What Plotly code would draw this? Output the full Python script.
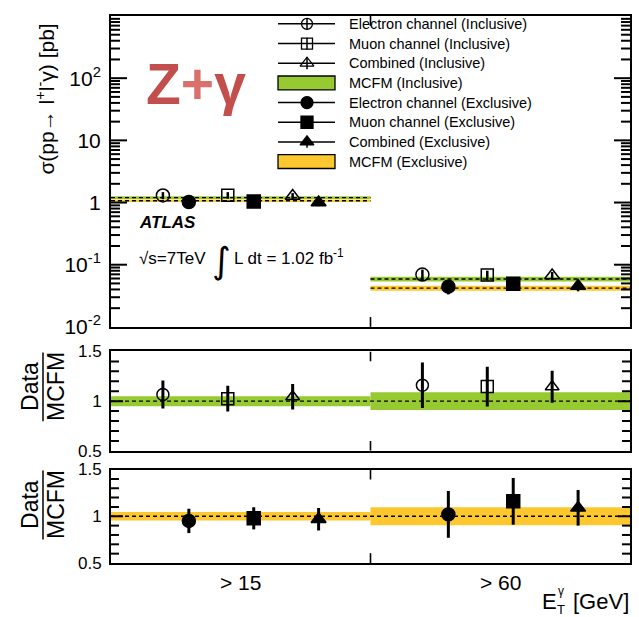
import math
import plotly.graph_objects as go

# ---------------- data ----------------
categories = ["> 15", "> 60"]          # photon E_T thresholds [GeV]
bin_edges = [0.0, 1.0, 2.0]

# measured cross sections [pb]
xs_e_incl = [1.30, 0.0695]
xs_e_incl_err = [0.17, 0.014]
xs_mu_incl = [1.31, 0.068]
xs_mu_incl_err = [0.16, 0.012]
xs_comb_incl = [1.27, 0.067]
xs_comb_incl_err = [0.15, 0.0095]
xs_e_excl = [1.02, 0.0443]
xs_e_excl_err = [0.14, 0.011]
xs_mu_excl = [1.04, 0.0496]
xs_mu_excl_err = [0.125, 0.0106]
xs_comb_excl = [1.00, 0.0454]
xs_comb_excl_err = [0.125, 0.0081]

# MCFM predictions [pb] and relative uncertainties
mcfm_incl = [1.20, 0.059]
mcfm_incl_rel = [0.05, 0.09]
mcfm_excl = [1.07, 0.042]
mcfm_excl_rel = [0.045, 0.096]

# Data / MCFM ratios
r_e_incl = [1.067, 1.16]
r_e_incl_err = [0.14, 0.23]
r_mu_incl = [1.025, 1.147]
r_mu_incl_err = [0.13, 0.20]
r_comb_incl = [1.045, 1.145]
r_comb_incl_err = [0.128, 0.16]
r_e_excl = [0.95, 1.02]
r_e_excl_err = [0.13, 0.25]
r_mu_excl = [0.978, 1.16]
r_mu_excl_err = [0.118, 0.25]
r_comb_excl = [0.968, 1.09]
r_comb_excl_err = [0.12, 0.19]

# axis tick values
log_major = [0.1, 1, 10, 100]
log_labels_vals = [0.01, 0.1, 1, 10, 100]
log_labels = ["10<sup>-2</sup>", "10<sup>-1</sup>", "1", "10", "10<sup>2</sup>"]
ratio_major = [1.0]
ratio_labels_vals = [0.5, 1.0, 1.5]
ratio_labels = ["0.5", "1", "1.5"]
ratio_minor = [0.6, 0.7, 0.8, 0.9, 1.1, 1.2, 1.3, 1.4]

# ---------------- layout helpers ----------------
W, H = 639, 617
ML, MR, MT, MB = 111, 9, 7, 54
PW, PH = W - ML - MR, H - MT - MB
LOG_RANGE = [-2, 3]
RATIO_RANGE = [0.5, 1.5]
# vertical pixel extent (top, bottom) of the three panels
TOP_PANEL = (MT, 323)
MID_PANEL = (348, 449)
BOT_PANEL = (468, H - MB)
XSPAN = bin_edges[-1] - bin_edges[0]


def px(x):
    return (x - ML) / PW


def py(y):
    return (H - MB - y) / PH


def top_x(xpix):
    """pixel column -> x value of the cross-section panel"""
    return bin_edges[0] + (xpix - ML) / PW * XSPAN


def top_y(ypix):
    """pixel row -> y value of the (log) cross-section panel"""
    frac = (TOP_PANEL[1] - ypix) / (TOP_PANEL[1] - TOP_PANEL[0])
    return 10 ** (LOG_RANGE[0] + frac * (LOG_RANGE[1] - LOG_RANGE[0]))


FONT = "Liberation Sans"
GREEN = "#97c930"
YELLOW = "#fdc82f"
RED = "#c24f4b"
RED_LIGHT = "#d8706b"

# horizontal offsets of each channel inside a bin
OFF_INCL = [0.20, 0.45, 0.70]
OFF_EXCL = [0.30, 0.55, 0.80]


def xs_at(offset):
    return [bin_edges[i] + offset for i in range(len(categories))]


fig = go.Figure()


def add_band(values, rel, color, xa, ya, dashed=True):
    for i in range(len(categories)):
        lo, hi = bin_edges[i], bin_edges[i + 1]
        v = values[i]
        e = v * rel[i]
        fig.add_trace(go.Scatter(
            x=[lo, hi, hi, lo, lo], y=[v - e, v - e, v + e, v + e, v - e],
            fill="toself", fillcolor=color, line=dict(width=0),
            mode="lines", xaxis=xa, yaxis=ya, showlegend=False, hoverinfo="skip"))
        if dashed:
            fig.add_trace(go.Scatter(
                x=[lo, hi], y=[v, v], mode="lines",
                line=dict(color="black", width=1.4, dash="4px,3px"),
                xaxis=xa, yaxis=ya, showlegend=False, hoverinfo="skip"))


def add_points(x, y, err, symbol, size, xa, ya, thick):
    fig.add_trace(go.Scatter(
        x=x, y=y, mode="markers", xaxis=xa, yaxis=ya, showlegend=False,
        marker=dict(symbol=symbol, size=size, color="black",
                    line=dict(width=1.5, color="black")),
        error_y=dict(type="data", array=err, color="black",
                     thickness=thick, width=0)))


# ---- top panel: cross sections ----
add_band(mcfm_incl, mcfm_incl_rel, GREEN, "x", "y")
add_band(mcfm_excl, mcfm_excl_rel, YELLOW, "x", "y")
add_points(xs_at(OFF_INCL[0]), xs_e_incl, xs_e_incl_err, "circle-open", 13, "x", "y", 2.5)
add_points(xs_at(OFF_INCL[1]), xs_mu_incl, xs_mu_incl_err, "square-open", 12, "x", "y", 2.5)
add_points(xs_at(OFF_INCL[2]), xs_comb_incl, xs_comb_incl_err, "triangle-up-open", 13, "x", "y", 2.5)
add_points(xs_at(OFF_EXCL[0]), xs_e_excl, xs_e_excl_err, "circle", 13, "x", "y", 2.5)
add_points(xs_at(OFF_EXCL[1]), xs_mu_excl, xs_mu_excl_err, "square", 13, "x", "y", 2.5)
add_points(xs_at(OFF_EXCL[2]), xs_comb_excl, xs_comb_excl_err, "triangle-up", 13, "x", "y", 2.5)

# ---- middle panel: inclusive ratio ----
add_band([1.0, 1.0], mcfm_incl_rel, GREEN, "x2", "y2", dashed=False)
add_points(xs_at(OFF_INCL[0]), r_e_incl, r_e_incl_err, "circle-open", 12, "x2", "y2", 3)
add_points(xs_at(OFF_INCL[1]), r_mu_incl, r_mu_incl_err, "square-open", 12, "x2", "y2", 3)
add_points(xs_at(OFF_INCL[2]), r_comb_incl, r_comb_incl_err, "triangle-up-open", 12, "x2", "y2", 3)

# ---- bottom panel: exclusive ratio ----
add_band([1.0, 1.0], mcfm_excl_rel, YELLOW, "x3", "y3", dashed=False)
add_points(xs_at(OFF_EXCL[0]), r_e_excl, r_e_excl_err, "circle", 13, "x3", "y3", 3)
add_points(xs_at(OFF_EXCL[1]), r_mu_excl, r_mu_excl_err, "square", 13, "x3", "y3", 3)
add_points(xs_at(OFF_EXCL[2]), r_comb_excl, r_comb_excl_err, "triangle-up", 13, "x3", "y3", 3)

shapes = []
# unity reference lines in the ratio panels
for xa, ya in (("x2", "y2"), ("x3", "y3")):
    shapes.append(dict(type="line", xref=xa, yref=ya, x0=bin_edges[0], x1=bin_edges[-1],
                       y0=1, y1=1, line=dict(color="black", width=1.4, dash="4px,3px")))


# ---------------- tick marks (inside, on all four sides) ----------------
def add_ticks(xa, ya, majors, minors, maj_len, min_len, y_lo, y_hi, y_step):
    """Draw inside tick marks as line traces; lengths are given in pixels."""
    for vals, ln in ((majors, maj_len), (minors, min_len)):
        dx = ln / PW * XSPAN
        for v in vals:
            for x0, x1 in ((bin_edges[0], bin_edges[0] + dx), (bin_edges[-1] - dx, bin_edges[-1])):
                fig.add_trace(go.Scatter(x=[x0, x1], y=[v, v], mode="lines", xaxis=xa, yaxis=ya,
                                         line=dict(color="black", width=2, simplify=False),
                                         showlegend=False, hoverinfo="skip"))
    # tick at the bin boundary on the lower and upper frame edge
    xb = bin_edges[1]
    for ya0, ya1 in ((y_lo, y_step(y_lo, +10)), (y_hi, y_step(y_hi, -10))):
        fig.add_trace(go.Scatter(x=[xb, xb], y=[ya0, ya1], mode="lines", xaxis=xa, yaxis=ya,
                                 line=dict(color="black", width=1.6), showlegend=False,
                                 hoverinfo="skip"))


decade_px = (TOP_PANEL[1] - TOP_PANEL[0]) / (LOG_RANGE[1] - LOG_RANGE[0])
log_minor = [k * 10.0 ** d for d in range(LOG_RANGE[0], LOG_RANGE[1]) for k in range(2, 10)]
add_ticks("x", "y", log_major, log_minor, 16, 9,
          10 ** LOG_RANGE[0], 10 ** LOG_RANGE[1],
          lambda v, dpix: v * 10 ** (dpix / decade_px))
for xa, ya, (top, bot) in (("x2", "y2", MID_PANEL), ("x3", "y3", BOT_PANEL)):
    unit_px = (bot - top) / (RATIO_RANGE[1] - RATIO_RANGE[0])
    add_ticks(xa, ya, ratio_major, ratio_minor, 12, 8, RATIO_RANGE[0], RATIO_RANGE[1],
              lambda v, dpix, u=unit_px: v + dpix / u)

# ---------------- legend (drawn by hand) ----------------
legend_rows = [
    ("Electron channel (Inclusive)", "circle-open", 11, True),
    ("Muon channel (Inclusive)", "square-open", 11, True),
    ("Combined (Inclusive)", "triangle-up-open", 12, True),
    ("MCFM (Inclusive)", GREEN, None, False),
    ("Electron channel (Exclusive)", "circle", 12, True),
    ("Muon channel (Exclusive)", "square", 12, True),
    ("Combined (Exclusive)", "triangle-up", 12, True),
    ("MCFM (Exclusive)", YELLOW, None, False),
]
LEG_X0, LEG_X1, LEG_XM, LEG_TX = 278, 335, 307, 347
annotations = []
for k, (label, sym, size, is_marker) in enumerate(legend_rows):
    yrow = 15 + 20 * k
    if is_marker:
        shapes.append(dict(type="line", xref="paper", yref="paper",
                           x0=px(LEG_X0), x1=px(LEG_X1), y0=py(yrow), y1=py(yrow),
                           line=dict(color="black", width=1.5)))
        shapes.append(dict(type="line", xref="paper", yref="paper",
                           x0=px(LEG_XM), x1=px(LEG_XM), y0=py(yrow - 6), y1=py(yrow + 6),
                           line=dict(color="black", width=1.5)))
        fig.add_trace(go.Scatter(
            x=[top_x(LEG_XM)], y=[top_y(yrow)], mode="markers", xaxis="x", yaxis="y",
            showlegend=False, hoverinfo="skip",
            marker=dict(symbol=sym, size=size, color="black", line=dict(width=1.3, color="black"))))
    else:
        shapes.append(dict(type="rect", xref="paper", yref="paper",
                           x0=px(LEG_X0), x1=px(LEG_X1), y0=py(yrow - 7), y1=py(yrow + 7),
                           fillcolor=sym, line=dict(color="black", width=1.3)))
    annotations.append(dict(text=label, xref="paper", yref="paper", x=px(LEG_TX), y=py(yrow),
                            xanchor="left", yanchor="middle", showarrow=False,
                            font=dict(family=FONT, size=14.5, color="black")))

# ---------------- text ----------------
annotations += [
    dict(text=f'<span style="color:{RED}">Z</span><span style="color:{RED_LIGHT}">+</span>'
              f'<span style="color:{RED}">γ</span>',
         xref="paper", yref="paper", x=px(196), y=py(76), xanchor="center", yanchor="middle",
         showarrow=False, font=dict(family=FONT, size=57, weight="bold")),
    dict(text="<b><i>ATLAS</i></b>", xref="paper", yref="paper", x=px(137), y=py(217),
         xanchor="left", yanchor="middle", showarrow=False,
         font=dict(family=FONT, size=17, color="black")),
    dict(text="√s=7TeV", xref="paper", yref="paper", x=px(137), y=py(253),
         xanchor="left", yanchor="middle", showarrow=False,
         font=dict(family=FONT, size=17, color="black")),
    dict(text="∫", xref="paper", yref="paper", x=px(221), y=py(256),
         xanchor="center", yanchor="middle", showarrow=False,
         font=dict(family="DejaVu Sans", size=36, color="black")),
    dict(text="L dt = 1.02 fb<sup>-1</sup>", xref="paper", yref="paper", x=px(232), y=py(252),
         xanchor="left", yanchor="middle", showarrow=False,
         font=dict(family=FONT, size=17, color="black")),
    # y-axis title of the cross-section panel
    dict(text="σ(pp→ l<sup>+</sup>l<sup>-</sup>γ) [pb]", xref="paper", yref="paper",
         x=px(45), y=py(92), xanchor="center", yanchor="middle", textangle=-90,
         showarrow=False, font=dict(family=FONT, size=21, color="black")),
    # x-axis title
    dict(text="E", xref="paper", yref="paper", x=px(549), y=py(602), xanchor="center",
         yanchor="middle", showarrow=False, font=dict(family=FONT, size=22, color="black")),
    dict(text="γ", xref="paper", yref="paper", x=px(561), y=py(591), xanchor="center",
         yanchor="middle", showarrow=False, font=dict(family=FONT, size=12, color="black")),
    dict(text="T", xref="paper", yref="paper", x=px(561), y=py(610), xanchor="center",
         yanchor="middle", showarrow=False, font=dict(family=FONT, size=13, color="black")),
    dict(text="[GeV]", xref="paper", yref="paper", x=px(631), y=py(602), xanchor="right",
         yanchor="middle", showarrow=False, font=dict(family=FONT, size=22, color="black")),
]

# category labels under the bottom panel
for i, cat in enumerate(categories):
    annotations.append(dict(text=cat, xref="x3", yref="paper",
                            x=(bin_edges[i] + bin_edges[i + 1]) / 2, y=py(583),
                            xanchor="center", yanchor="middle", showarrow=False,
                            font=dict(family=FONT, size=21, color="black")))

# Data/MCFM titles for the ratio panels
for ycen in (384, 504):
    annotations.append(dict(text="Data", xref="paper", yref="paper", x=px(30), y=py(ycen),
                            xanchor="center", yanchor="middle", textangle=-90, showarrow=False,
                            font=dict(family=FONT, size=23, color="black")))
    annotations.append(dict(text="MCFM", xref="paper", yref="paper", x=px(56), y=py(ycen),
                            xanchor="center", yanchor="middle", textangle=-90, showarrow=False,
                            font=dict(family=FONT, size=23, color="black")))
    shapes.append(dict(type="line", xref="paper", yref="paper", x0=px(43), x1=px(43),
                       y0=py(ycen - 35), y1=py(ycen + 35), line=dict(color="black", width=1.5)))

# ---------------- axes ----------------
frame = dict(showline=True, linewidth=2, linecolor="black", mirror=True,
             showgrid=False, zeroline=False, ticks="")

x_common = dict(range=[bin_edges[0], bin_edges[-1]], showticklabels=False, **frame)

y_ratio = dict(range=RATIO_RANGE, tickmode="array", tickvals=ratio_labels_vals,
               ticktext=ratio_labels, ticklabelstandoff=4,
               tickfont=dict(family=FONT, size=17, color="black"), **frame)

fig.update_layout(
    width=W, height=H,
    margin=dict(l=ML, r=MR, t=MT, b=MB, pad=0),
    paper_bgcolor="white", plot_bgcolor="white",
    showlegend=False,
    xaxis=dict(domain=[0, 1], anchor="y", **x_common),
    yaxis=dict(domain=[py(TOP_PANEL[1]), py(TOP_PANEL[0])], anchor="x", type="log",
               range=LOG_RANGE, tickmode="array", tickvals=log_labels_vals,
               ticktext=log_labels, ticklabelstandoff=4,
               tickfont=dict(family=FONT, size=21, color="black"), **frame),
    xaxis2=dict(domain=[0, 1], anchor="y2", **x_common),
    yaxis2=dict(domain=[py(MID_PANEL[1]), py(MID_PANEL[0])], anchor="x2", **y_ratio),
    xaxis3=dict(domain=[0, 1], anchor="y3", **x_common),
    yaxis3=dict(domain=[py(BOT_PANEL[1]), py(BOT_PANEL[0])], anchor="x3", **y_ratio),
    shapes=shapes,
    annotations=annotations,
)

fig.write_html("out.html")
